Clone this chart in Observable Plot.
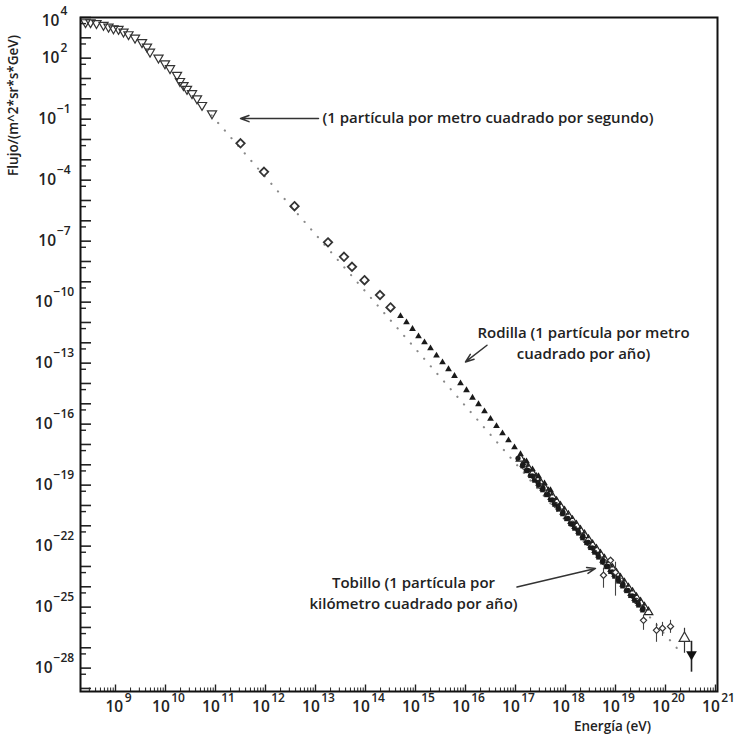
<!DOCTYPE html>
<html><head><meta charset="utf-8">
<script src="https://cdn.jsdelivr.net/npm/d3@7"></script>
<script src="https://cdn.jsdelivr.net/npm/@observablehq/plot@0.6"></script>
<style>html,body{margin:0;padding:0;background:#fff;overflow:hidden}</style>
</head><body><div id="chart"></div>
<script>
// All values given as [log10 Energy (eV), log10 Flux]
const leapSatellite = [
  [8.40,3.76],[8.50,3.76],[8.62,3.72],[8.76,3.63],[8.86,3.54],[8.96,3.46],[9.06,3.43],
  [9.16,3.30],[9.26,3.17],[9.39,3.00],[9.53,2.78],[9.63,2.56],[9.69,2.31],[9.86,2.02],
  [9.99,1.74],[10.09,1.50],[10.23,1.17],[10.29,0.87],[10.36,0.67],[10.43,0.48],
  [10.53,0.27],[10.63,0.02],[10.73,-0.31],[10.93,-0.72]
];
const protonSatellite = [
  [11.50,-2.19],[11.97,-3.59],[12.58,-5.28],[13.25,-7.06],[13.57,-7.77],
  [13.73,-8.26],[13.98,-8.92],[14.29,-9.65],[14.50,-10.26]
];
const kneeArray = [
  [14.70,-10.69],[14.82,-10.99],[14.94,-11.32],[15.06,-11.68],[15.18,-11.98],[15.30,-12.27],
  [15.42,-12.63],[15.54,-12.96],[15.66,-13.30],[15.78,-13.63],[15.90,-13.99],[16.02,-14.33],
  [16.14,-14.70],[16.26,-15.02],[16.38,-15.37],[16.50,-15.74],[16.62,-16.10],[16.74,-16.45],
  [16.86,-16.80],[16.98,-17.14],[17.10,-17.48],[17.22,-17.83],[17.34,-18.22],[17.46,-18.56],
  [17.58,-18.91],[17.70,-19.25]
];
const flysEye = [
  [17.10,-17.70],[17.18,-17.95],[17.26,-18.18],[17.34,-18.42],[17.42,-18.66],[17.50,-18.88],
  [17.58,-19.12],[17.66,-19.36],[17.74,-19.58],[17.82,-19.82],[17.90,-20.06],[17.98,-20.30],
  [18.06,-20.52],[18.14,-20.76],[18.22,-21.00],[18.30,-21.24],[18.38,-21.46],[18.46,-21.70],
  [18.54,-21.95],[18.62,-22.18],[18.70,-22.42],[18.78,-22.66],[18.86,-22.90],[18.94,-23.12],
  [19.02,-23.36],[19.10,-23.60],[19.18,-23.84],[19.26,-24.08],[19.34,-24.30],[19.42,-24.55],
  [19.50,-24.78],[19.58,-25.02],[19.66,-25.25]
];
const akeno = [
  [17.14,-18.06],[17.22,-18.30],[17.30,-18.54],[17.38,-18.77],[17.46,-19.01],[17.54,-19.24],
  [17.62,-19.48],[17.70,-19.72],[17.78,-19.95],[17.86,-20.19],[17.94,-20.42],[18.02,-20.66],
  [18.10,-20.90],[18.18,-21.13],[18.26,-21.37],[18.34,-21.60],[18.42,-21.84],[18.50,-22.08],
  [18.58,-22.31],[18.66,-22.55],[18.74,-22.79],[18.82,-23.02],[18.90,-23.26],[18.98,-23.49],
  [19.06,-23.73],[19.14,-23.97],[19.22,-24.20],[19.30,-24.44],[19.38,-24.67],[19.46,-24.91],
  [19.54,-25.15]
];
const haverahPark = [
  [17.05,-17.68],[17.15,-17.97],[17.25,-18.27],[17.35,-18.56],[17.45,-18.86],[17.55,-19.15],
  [17.65,-19.45],[17.75,-19.74],[17.85,-20.04],[17.95,-20.33],[18.05,-20.63],[18.15,-20.92],
  [18.25,-21.22],[18.35,-21.51],[18.45,-21.81],[18.55,-22.10],[18.65,-22.40],[18.75,-22.70],
  [18.85,-22.99],[18.95,-23.28],[19.05,-23.58],[19.15,-23.87],[19.25,-24.17],[19.35,-24.46],
  [19.45,-24.76],[19.55,-25.06]
];
const agasa = [
  [17.18,-18.10],[17.50,-19.05],[17.82,-20.00],[18.14,-20.90],[18.46,-21.85],
  [18.78,-22.80],[19.10,-23.70],[19.42,-24.70]
];
// [log10 E, log10 F, log10 low, log10 high]
const highEnergyErr = [
  [18.76,-23.43,-24.07,-23.09],[19.00,-23.29,-24.46,-22.79],[18.90,-22.70,-23.09,-22.55],
  [19.56,-25.65,-26.14,-25.40],[19.82,-26.14,-26.73,-25.80],[19.94,-26.04,-26.44,-25.75],
  [20.10,-25.95,-26.29,-25.65]
];
const openTriangleTop = [[20.38,-26.53,-27.27,-26.04]];
const filledTriangleTop = [[20.52,-27.32,-28.20,-26.68]];
const referenceLine = [[10.92,-0.81],[20.30,-27.22]];

const xTickExps = [9,10,11,12,13,14,15,16,17,18,19,20,21];
const yTickExps = [4,2,-1,-4,-7,-10,-13,-16,-19,-22,-25,-28];

const arrowNotes = [
  {e1:13.06, f1:-0.97, e2:11.50, f2:-0.97},
  {e1:16.43, f1:-12.12, e2:16.00, f2:-12.94},
  {e1:17.03, f1:-24.01, e2:18.60, f2:-23.10}
];
const noteSecond = [{e:13.14, f:-0.95, text:"(1 partícula por metro cuadrado por segundo)"}];
const noteBlocks = [
  {e:18.36, f:-11.95, text:"Rodilla (1 partícula por metro\ncuadrado por año)"},
  {e:14.96, f:-24.24, text:"Tobillo (1 partícula por\nkilómetro cuadrado por año)"}
];
const yTitle = "Flujo/(m^2*sr*s*GeV)";
const xTitle = "Energía (eV)";

// ---------- build ----------
const P = a => ({E: 10 ** a[0], F: 10 ** a[1], lo: a[2] !== undefined ? 10 ** a[2] : null, hi: a[3] !== undefined ? 10 ** a[3] : null});
const W = 736, H = 734, mL = 80, mR = 19, mT = 17, mB = 43;
const plotW = W - mL - mR, plotH = H - mT - mB;
const FONT = '"Open Sans", "DejaVu Sans", sans-serif';
const ink = "#222";

const sqrt3 = Math.sqrt(3);
const triangleDown = {draw(ctx, size) {
  const y = -Math.sqrt(size / (sqrt3 * 3));
  ctx.moveTo(0, -y * 2); ctx.lineTo(-sqrt3 * y, y); ctx.lineTo(sqrt3 * y, y); ctx.closePath();
}};

const cv = document.createElement("canvas").getContext("2d");
const tw = (s, size) => { cv.font = `600 ${size}px ${FONT}`; return cv.measureText(s).width; };
const expStr = e => e < 0 ? "\u2212" + (-e) : String(e);
const BASE = 15.5, SUP = 12;

const yLabelMarks = yTickExps.flatMap(e => {
  const ex = expStr(e), w10 = tw("10", BASE), wE = tw(ex, SUP);
  const start = -26 - (w10 + 1 + wE) / 2;
  const d0 = e === 4 ? 4 : 0;
  return [
    Plot.text([10 ** e], {y: d => d, frameAnchor: "left", text: () => "10", textAnchor: "start", lineAnchor: "middle", dx: start, dy: d0, fontSize: BASE, fontWeight: 600, fill: ink}),
    Plot.text([10 ** e], {y: d => d, frameAnchor: "left", text: () => ex, textAnchor: "start", lineAnchor: "middle", dx: start + w10 + 1, dy: d0 - 10, fontSize: SUP, fontWeight: 600, fill: ink})
  ];
});
const xLabelMarks = xTickExps.flatMap(e => {
  const ex = expStr(e), w10 = tw("10", BASE), wE = tw(ex, SUP);
  const start = 3 - (w10 + 1.5 + wE) / 2;
  return [
    Plot.text([10 ** e], {x: d => d, frameAnchor: "bottom", text: () => "10", textAnchor: "start", lineAnchor: "middle", dx: start, dy: 15.5, fontSize: BASE, fontWeight: 600, fill: ink}),
    Plot.text([10 ** e], {x: d => d, frameAnchor: "bottom", text: () => ex, textAnchor: "start", lineAnchor: "middle", dx: start + w10 + 1.5, dy: 7, fontSize: SUP, fontWeight: 600, fill: ink})
  ];
});

const xDom = [10 ** 8.3, 10 ** 21.04], yDom = [10 ** -29.15, 10 ** 4];
const inX = v => v >= xDom[0] && v <= xDom[1], inY = v => v >= yDom[0] && v <= yDom[1];
const xMajor = d3.range(8, 22).map(k => 10 ** k).filter(inX);
const xMinor = d3.range(8, 21).flatMap(k => d3.range(2, 10).map(m => m * 10 ** k)).filter(inX);
const yMajor = d3.range(-30, 5).map(k => 10 ** k).filter(inY);
const yMinor = d3.range(-30, 4).map(k => 5 * 10 ** k).filter(inY);

const chart = Plot.plot({
  width: W, height: H,
  marginLeft: mL, marginRight: mR, marginTop: mT, marginBottom: mB,
  x: {type: "log", domain: xDom, axis: null},
  y: {type: "log", domain: yDom, axis: null},
  style: {fontFamily: FONT, background: "#fff", color: ink},
  marks: [
    Plot.tickX(xMinor, {x: d => d, insetTop: plotH - 3.5, stroke: ink, strokeWidth: 1}),
    Plot.tickX(xMajor, {x: d => d, insetTop: plotH - 6.5, stroke: ink, strokeWidth: 1.4}),
    Plot.tickY(yMinor, {y: d => d, insetRight: plotW - 6, stroke: ink, strokeWidth: 1.4}),
    Plot.tickY(yMajor, {y: d => d, insetRight: plotW - 11, stroke: ink, strokeWidth: 1.6}),
    Plot.line(referenceLine.map(P), {x: "E", y: "F", stroke: "#8a8a8a", strokeWidth: 2.2, strokeDasharray: "0.1 10", strokeLinecap: "round"}),
    Plot.dot(leapSatellite.map(P), {x: "E", y: "F", symbol: triangleDown, r: 3.4, stroke: "#333", strokeWidth: 1.2, fill: "none"}),
    Plot.dot(protonSatellite.map(P), {x: "E", y: "F", symbol: "diamond2", r: 3.8, stroke: "#333", strokeWidth: 1.8, fill: "none"}),
    Plot.dot(kneeArray.map(P), {x: "E", y: "F", symbol: "triangle", r: 2.5, fill: "#1a1a1a", stroke: "none"}),
    Plot.dot(agasa.map(P), {x: "E", y: "F", symbol: "circle", r: 2.8, stroke: "#333", strokeWidth: 1, fill: "none"}),
    Plot.dot(haverahPark.map(P), {x: "E", y: "F", symbol: "circle", r: 2.6, fill: "#1a1a1a", stroke: "none"}),
    Plot.dot(flysEye.map(P), {x: "E", y: "F", symbol: "triangle", r: 3.2, stroke: "#222", strokeWidth: 1.2, fill: "none"}),
    Plot.dot(akeno.map(P), {x: "E", y: "F", symbol: "square", r: 2.6, fill: "#1a1a1a", stroke: "none"}),
    Plot.ruleX(highEnergyErr.map(P), {x: "E", y1: "lo", y2: "hi", stroke: "#444", strokeWidth: 1.1}),
    Plot.dot(highEnergyErr.map(P), {x: "E", y: "F", symbol: "diamond2", r: 2.8, stroke: "#333", strokeWidth: 1.2, fill: "#fff"}),
    Plot.ruleX(openTriangleTop.map(P), {x: "E", y1: "lo", y2: "hi", stroke: "#333", strokeWidth: 1.2}),
    Plot.dot(openTriangleTop.map(P), {x: "E", y: "F", symbol: "triangle", r: 4, stroke: "#333", strokeWidth: 1.2, fill: "#fff"}),
    Plot.ruleX(filledTriangleTop.map(P), {x: "E", y1: "lo", y2: "hi", stroke: "#222", strokeWidth: 1.6}),
    Plot.dot(filledTriangleTop.map(P), {x: "E", y: "F", symbol: triangleDown, r: 4, fill: "#111", stroke: "none"}),
    Plot.arrow(arrowNotes, {x1: d => 10 ** d.e1, y1: d => 10 ** d.f1, x2: d => 10 ** d.e2, y2: d => 10 ** d.f2, stroke: "#333", strokeWidth: 1.5, headLength: 9, headAngle: 40}),
    Plot.text(noteSecond, {x: d => 10 ** d.e, y: d => 10 ** d.f, text: "text", textAnchor: "start", lineAnchor: "middle", fontSize: 15, fontWeight: 600, fill: ink}),
    Plot.text(noteBlocks, {x: d => 10 ** d.e, y: d => 10 ** d.f, text: "text", textAnchor: "middle", lineAnchor: "middle", lineHeight: 1.4, fontSize: 15, fontWeight: 600, fill: ink}),
    ...yLabelMarks,
    ...xLabelMarks,
    Plot.text([yTitle], {text: d => d, frameAnchor: "top-left", dx: -67, dy: 88, rotate: -90, textAnchor: "middle", lineAnchor: "middle", fontSize: 13.5, fontWeight: 600, fill: ink}),
    Plot.text([xTitle], {text: d => d, frameAnchor: "bottom-right", dx: -105, dy: 35, textAnchor: "middle", lineAnchor: "middle", fontSize: 13.5, fontWeight: 600, fill: ink}),
    Plot.frame({stroke: "#111", strokeWidth: 2})
  ]
});
document.getElementById("chart").appendChild(chart);
</script>
</body></html>
